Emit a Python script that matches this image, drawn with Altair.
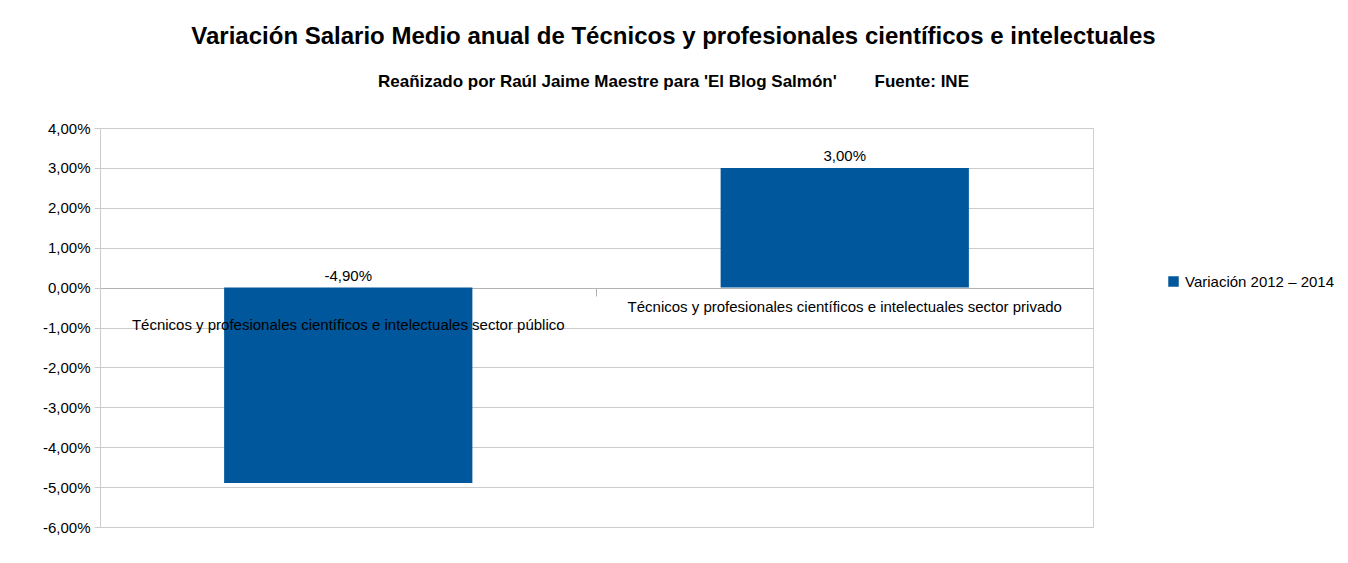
import altair as alt
import pandas as pd

categories = [
    "Técnicos y profesionales científicos e intelectuales sector público",
    "Técnicos y profesionales científicos e intelectuales sector privado",
]
values = [-0.049, 0.030]
value_labels = ["-4,90%", "3,00%"]
series_name = "Variación 2012 – 2014"
y_ticks = [0.04, 0.03, 0.02, 0.01, 0.0, -0.01, -0.02, -0.03, -0.04, -0.05, -0.06]

df = pd.DataFrame({
    "cat": categories,
    "val": values,
    "lab": value_labels,
    "serie": [series_name] * len(categories),
})
df["labpos"] = df["val"].clip(lower=0)

FONT = "Liberation Sans"
BLUE = "#00579c"
FS = 15

x_axis = alt.Axis(title=None, labels=False, ticks=True, tickSize=8,
                  bandPosition=0, domain=True, domainColor="#b3b3b3",
                  tickColor="#b3b3b3", grid=False, offset=-239)
x_scale = alt.Scale(paddingInner=0, paddingOuter=0)
y_axis = alt.Axis(title=None, values=y_ticks, tickCount=11, tickSize=6,
                  labelOverlap=False, labelFlush=False,
                  labelExpr="(datum.value < -0.00001 ? '-' : '') + replace(format(abs(datum.value), '.2%'), '.', ',')",
                  labelFont=FONT, labelFontSize=FS, labelColor="#000000",
                  labelPadding=4, gridColor="#cccccc", tickColor="#cccccc",
                  domainColor="#cccccc")
y_scale = alt.Scale(domain=[-0.06, 0.04], nice=False, zero=False)

base = alt.Chart(df)

bars = base.mark_bar(width=alt.RelativeBandSize(0.5), color=BLUE).encode(
    x=alt.X("cat:N", sort=categories, scale=x_scale, axis=x_axis),
    y=alt.Y("val:Q", scale=y_scale, axis=y_axis),
    y2=alt.datum(0),
    color=alt.Color("serie:N", scale=alt.Scale(range=[BLUE]),
                    legend=alt.Legend(title=None, orient="none", legendX=1066, legendY=146,
                                      symbolType="square", symbolSize=110,
                                      labelFont=FONT, labelFontSize=FS, labelColor="#000000",
                                      symbolStrokeWidth=0)),
)

vlabels = base.mark_text(font=FONT, fontSize=FS, color="#000000", dy=-12).encode(
    x=alt.X("cat:N", sort=categories, scale=x_scale, axis=x_axis),
    y=alt.Y("labpos:Q", scale=y_scale, axis=y_axis),
    text="lab:N",
)

cat1 = base.transform_filter(alt.datum.cat == categories[0]).mark_text(
    font=FONT, fontSize=FS, color="#000000", dy=37).encode(
    x=alt.X("cat:N", sort=categories, scale=x_scale, axis=x_axis),
    y=alt.Y(datum=0, scale=y_scale, axis=y_axis), text="cat:N")
cat2 = base.transform_filter(alt.datum.cat == categories[1]).mark_text(
    font=FONT, fontSize=FS, color="#000000", dy=19).encode(
    x=alt.X("cat:N", sort=categories, scale=x_scale, axis=x_axis),
    y=alt.Y(datum=0, scale=y_scale, axis=y_axis), text="cat:N")

nb = "\u00a0"
chart = alt.layer(bars, vlabels, cat1, cat2).properties(
    width=993, height=399,
    autosize=alt.AutoSizeParams(type="none"),
    padding={"left": 92, "top": 120, "right": 247, "bottom": 28},
    title=alt.Title(
        "Variación Salario Medio anual de Técnicos y profesionales científicos e intelectuales",
        subtitle="Reañizado por Raúl Jaime Maestre para 'El Blog Salmón'" + nb * 8 + "Fuente: INE",
        font=FONT, fontSize=24, fontWeight="bold", color="#000000",
        subtitleFont=FONT, subtitleFontSize=17, subtitleFontWeight="bold", subtitleColor="#000000",
        anchor="middle", dx=77, offset=31, subtitlePadding=25,
    ),
).configure_view(stroke="#d0d0d0")

chart.save("out.html", embed_options={"renderer": "svg", "actions": False})
